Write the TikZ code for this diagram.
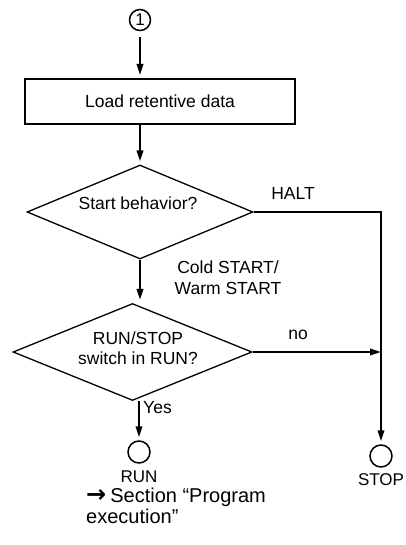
\documentclass[tikz,border=0pt]{standalone}
\usepackage{fontspec}
\setmainfont{Liberation Sans}
\newfontfamily\symfont{DejaVu Sans}
\usetikzlibrary{arrows.meta,shapes.geometric}
\begin{document}
\begin{tikzpicture}[x=1pt,y=-1pt,
  every node/.style={font=\fontsize{17.5}{20.5}\selectfont},
  txt/.style={inner sep=0pt, align=center},
  smalltxt/.style={inner sep=0pt, font=\fontsize{17}{18}\selectfont},
  proc/.style={draw, line width=2pt, minimum width=270pt, minimum height=45pt, inner sep=0pt},
  dec/.style={draw, diamond, line width=1.3pt, inner sep=0pt},
  term/.style={draw, circle, line width=1.5pt, minimum size=22pt, inner sep=0pt},
  flow/.style={line width=2pt, -{Triangle[length=11pt,width=6.5pt]}, shorten >=3pt},
  plain/.style={line width=2pt}]
\useasboundingbox (0,0) rectangle (406,545);
% nodes
\node[term, minimum size=21pt, font=\fontsize{17}{17}\selectfont] (c1) at (140,20) {1};
\node[proc] (box) at (160,101.5) {Load retentive data};
\node[dec, minimum width=226pt, minimum height=94pt] (d1) at (140,212) {};
\node[txt] (d1t) at (138,203) {Start behavior?};
\node[dec, minimum width=239pt, minimum height=97pt] (d2) at (132.5,352) {};
\node[txt] (d2t) at (138,348) {RUN/STOP\\switch in RUN?};
\node[term] (run) at (139,452) {};
\node[term] (stop) at (381,456) {};
\node[smalltxt] (runl) at (139,477) {RUN};
\node[smalltxt] (stopl) at (381,480) {STOP};
\coordinate (nohit) at (381,352);
% labels
\node[txt] (halt) at (293,193) {HALT};
\node[txt] (no) at (298,335) {no};
\node[txt] (cold) at (228,277.5) {Cold START/\\Warm START};
\node[txt, anchor=west] (yes) at (143,408) {Yes};
\node[inner sep=0pt, anchor=north west, align=left, font=\fontsize{20}{20.5}\selectfont] (sec) at (86,488)
  {{\symfont\bfseries\fontsize{24}{20.5}\selectfont →}\hspace{4pt}Section “Program\\execution”};
% connectors
\draw[flow, shorten <=6pt] (c1) -- (c1 |- box.north);
\draw[flow] (d1.north |- box.south) -- (d1.north);
\draw[flow] (d1.south) -- (d1.south |- d2.north);
\draw[flow] (d1.east) -| (stop.north);
\draw[flow, shorten >=0pt] (d2.east) -- (nohit);
\draw[flow] (run.north |- d2.south) -- (run.north);
\end{tikzpicture}
\end{document}
